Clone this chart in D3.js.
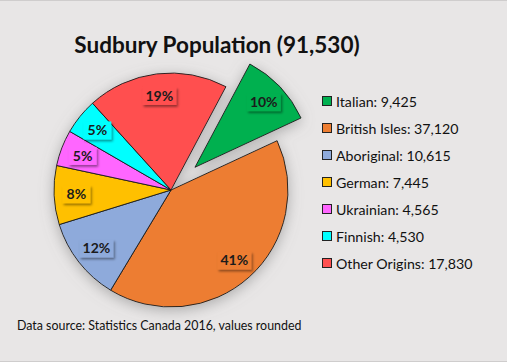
<!DOCTYPE html>
<html>
<head>
<meta charset="utf-8">
<script src="https://cdn.jsdelivr.net/npm/d3@7"></script>
<style>
  html, body { margin: 0; padding: 0; background: #e8e6e6; }
  svg { display: block; font-family: Lato, "Open Sans", sans-serif; }
</style>
</head>
<body>
<div id="chart"></div>
<script>
  // data
  const categories = ["Italian", "British Isles", "Aboriginal", "German", "Ukrainian", "Finnish", "Other Origins"];
  const populations = [9425, 37120, 10615, 7445, 4565, 4530, 17830];
  const percentLabels = ["10%", "41%", "12%", "8%", "5%", "5%", "19%"];
  const colors = ["#00b050", "#ed7d31", "#8eaadb", "#ffc000", "#ff66ff", "#00ffff", "#ff5050"];
  const total = 91530;

  const W = 507, H = 362;
  const cx = 171, cy = 190, radius = 117;
  const explode = 33;

  const svg = d3.select("#chart").append("svg")
    .attr("width", W)
    .attr("height", H);

  const defs = svg.append("defs");
  const pieShadow = defs.append("filter").attr("id", "pie-shadow")
    .attr("x", "-30%").attr("y", "-30%").attr("width", "160%").attr("height", "160%");
  pieShadow.append("feDropShadow")
    .attr("dx", 0).attr("dy", 3).attr("stdDeviation", 7)
    .attr("flood-color", "#7a7a7a").attr("flood-opacity", 0.55);

  const boxShadow = defs.append("filter").attr("id", "box-shadow")
    .attr("x", "-30%").attr("y", "-30%").attr("width", "160%").attr("height", "160%");
  boxShadow.append("feDropShadow")
    .attr("dx", 1.5).attr("dy", 2).attr("stdDeviation", 1.3)
    .attr("flood-color", "#000").attr("flood-opacity", 0.4);

  svg.append("rect")
    .attr("width", W).attr("height", H)
    .attr("fill", "#e8e6e6");
  svg.append("line").attr("x1", 0).attr("x2", W).attr("y1", 0.5).attr("y2", 0.5)
    .attr("stroke", "#cfcdcd");
  svg.append("line").attr("x1", 0).attr("x2", W).attr("y1", H - 0.5).attr("y2", H - 0.5)
    .attr("stroke", "#cfcdcd");

  // title
  svg.append("text")
    .attr("x", 217).attr("y", 53)
    .attr("text-anchor", "middle")
    .style("font-size", "22.5px")
    .style("font-weight", "bold")
    .attr("fill", "#111")
    .text(`Sudbury Population (${d3.format(",")(total)})`);

  const data = categories.map((c, i) => ({ name: c, value: populations[i], pct: percentLabels[i], color: colors[i] }));

  const pie = d3.pie()
    .sort(null)
    .value(d => d.value)
    .startAngle(28 * Math.PI / 180)
    .endAngle(28 * Math.PI / 180 + 2 * Math.PI);

  const arcs = pie(data);
  const arc = d3.arc().innerRadius(0).outerRadius(radius);
  const labelArc = d3.arc().innerRadius(radius * 0.81).outerRadius(radius * 0.81);

  const offset = (d, i) => {
    if (i !== 0) return [0, 0];
    const a = (d.startAngle + d.endAngle) / 2;
    return [Math.sin(a) * explode, -Math.cos(a) * explode];
  };

  const g = svg.append("g").attr("transform", `translate(${cx},${cy})`);

  const slices = g.append("g").attr("filter", "url(#pie-shadow)");
  slices.selectAll("path")
    .data(arcs)
    .join("path")
    .attr("transform", (d, i) => `translate(${offset(d, i)})`)
    .attr("d", arc)
    .attr("fill", d => d.data.color)
    .attr("stroke", "#1a1a1a")
    .attr("stroke-width", 0.9)
    .attr("stroke-linejoin", "round");

  // percent labels in shaded boxes
  const labels = g.selectAll(".lbl")
    .data(arcs)
    .join("g")
    .attr("class", "lbl")
    .attr("transform", (d, i) => {
      const [ox, oy] = offset(d, i);
      const [lx, ly] = labelArc.centroid(d);
      return `translate(${lx + ox},${ly + oy})`;
    });

  labels.append("rect")
    .attr("x", d => d.data.pct.length > 2 ? -17 : -14)
    .attr("y", -9)
    .attr("width", d => d.data.pct.length > 2 ? 34 : 28)
    .attr("height", 18)
    .attr("fill", d => d.data.color)
    .attr("filter", "url(#box-shadow)");

  labels.append("text")
    .attr("text-anchor", "middle")
    .attr("dy", "0.35em")
    .style("font-size", "14px")
    .style("font-weight", "bold")
    .attr("fill", "#1b1b1b")
    .text(d => d.data.pct);

  // legend
  const legend = svg.append("g").attr("transform", "translate(322,102)");
  const rows = legend.selectAll("g")
    .data(data)
    .join("g")
    .attr("transform", (d, i) => `translate(0,${i * 27})`);

  rows.append("rect")
    .attr("x", 0.5).attr("y", -5.5)
    .attr("width", 9).attr("height", 9)
    .attr("fill", d => d.color)
    .attr("stroke", "#222")
    .attr("stroke-width", 1);

  rows.append("text")
    .attr("x", 14)
    .attr("y", 0)
    .attr("dy", "0.35em")
    .style("font-size", "14.2px")
    .attr("fill", "#111")
    .text(d => `${d.name}: ${d3.format(",")(d.value)}`);

  // source note
  svg.append("text")
    .attr("x", 17).attr("y", 330)
    .style("font-size", "12.4px")
    .attr("fill", "#111")
    .text("Data source: Statistics Canada 2016, values rounded");
</script>
</body>
</html>
